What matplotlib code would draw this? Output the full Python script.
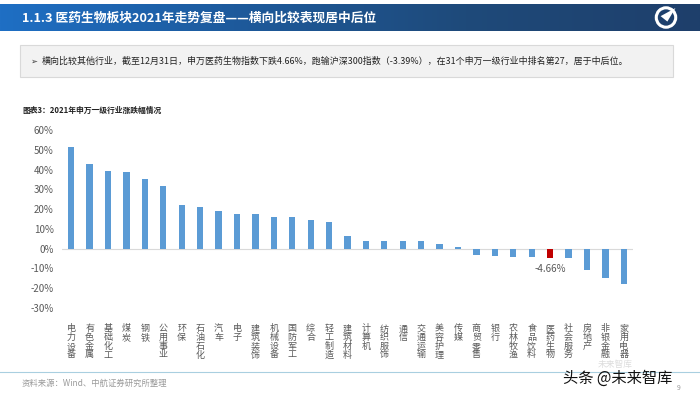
import numpy as np
import matplotlib.pyplot as plt
from matplotlib.patches import Rectangle, Circle, Polygon
from matplotlib.colors import LinearSegmentedColormap

plt.rcParams['font.family'] = ['Noto Sans CJK SC', 'DejaVu Sans']

# industries (Shenwan level 1) and 2021 returns, %
industries = ['电力设备', '有色金属', '基础化工', '煤炭', '钢铁', '公用事业', '环保', '石油石化',
              '汽车', '电子', '建筑装饰', '机械设备', '国防军工', '综合', '轻工制造', '建筑材料',
              '计算机', '纺织服饰', '通信', '交通运输', '美容护理', '传媒', '商贸零售', '银行',
              '农林牧渔', '食品饮料', '医药生物', '社会服务', '房地产', '非银金融', '家用电器']
returns = [51.4, 42.6, 39.2, 39.0, 35.0, 31.9, 22.0, 21.1,
           19.1, 17.6, 17.4, 16.2, 16.2, 14.4, 13.3, 6.6,
           4.1, 4.1, 3.9, 3.9, 2.2, 1.0, -3.2, -3.7,
           -4.2, -4.2, -4.66, -4.9, -11.0, -14.9, -17.9]
highlight = '医药生物'
yticks = [-30, -20, -10, 0, 10, 20, 30, 40, 50, 60]

W, H = 700, 394
fig = plt.figure(figsize=(7, 3.94), dpi=100)

def fx(px):
    return px / W

def fy(py):
    return 1 - py / H

# header band with gradient
hdr = fig.add_axes([0, fy(31), 1, (31 - 4) / H])
grad = np.linspace(0, 1, 256).reshape(1, -1)
cm = LinearSegmentedColormap.from_list('hdr', ['#1f6fc4', '#1d5a9c', '#1f4a7a', '#1e3f6b'])
hdr.imshow(grad, aspect='auto', cmap=cm, extent=[0, 1, 0, 1])
hdr.set_axis_off()
fig.text(fx(22), fy(18), '1.1.3 医药生物板块2021年走势复盘——横向比较表现居中后位',
         color='white', fontsize=9.2, fontweight='bold', va='center', ha='left')

# logo
ov = fig.add_axes([fx(652), fy(31), fx(28), 27 / H])
ov.set_xlim(0, 1)
ov.set_ylim(0, 1)
ov.set_aspect('equal')
ov.set_axis_off()
ov.add_patch(Circle((0.5, 0.5), 0.36, fill=False, ec='white', lw=2.2))
ov.add_patch(Polygon([[0.3, 0.55], [0.85, 0.85], [0.55, 0.35]], closed=True, fc='white', ec='none'))

# bullet text box
fig.patches.append(Rectangle((fx(20), fy(77)), fx(653), (77 - 45) / H, transform=fig.transFigure,
                             fc='#f2f2f2', ec='#d9d9d9', lw=0.8))
fig.text(fx(30), fy(61), '➢', fontsize=6, va='center', color='#333333')
fig.text(fx(42), fy(61), '横向比较其他行业，截至12月31日，申万医药生物指数下跌4.66%，跑输沪深300指数（-3.39%），在31个申万一级行业中排名第27，居于中后位。',
         fontsize=6.45, va='center', color='#222222')

# chart title
fig.text(fx(22), fy(110), '图表3：2021年申万一级行业涨跌幅情况', fontsize=5.6, fontweight='bold',
         va='center', color='#222222')

# bar chart
ax = fig.add_axes([fx(62), fy(308), fx(633 - 62), (308 - 130) / H])
x = np.arange(len(industries))
colors = ['#c00000' if n == highlight else '#5b9bd5' for n in industries]
ax.bar(x, returns, width=0.34, color=colors)
ax.set_xlim(-0.5, len(industries) - 0.5)
ax.set_ylim(-30, 60)
ax.set_yticks(yticks)
ax.set_yticklabels([f'{v}%' for v in yticks], fontsize=7, color='#595959')
ax.tick_params(axis='y', length=0, pad=6)
ax.set_xticks([])
for s in ax.spines.values():
    s.set_visible(False)
ax.axhline(0, color='#d9d9d9', lw=0.8, zorder=0)

for i, n in enumerate(industries):
    ax.text(i, -38.3, '\n'.join(n), ha='center', va='top', fontsize=6.5, color='#595959',
            linespacing=0.95)

hi = industries.index(highlight)
ax.text(hi, returns[hi] - 5.5, f'{returns[hi]:.2f}%', ha='center', va='center',
        fontsize=7, color='#595959')

# footer
fig.add_artist(plt.Line2D([0, 1], [fy(372), fy(372)], transform=fig.transFigure,
                          color='#a9cfe0', lw=0.8))
fig.text(fx(22), fy(383), '资料来源：Wind、中航证券研究所整理', fontsize=6, va='center', color='#9a9a9a')
fig.text(fx(598), fy(364.8), '未来智库', fontsize=6.3, va='center', color='#dcdcdc')
fig.text(fx(563), fy(378.5), '头条 @未来智库', fontsize=11, va='center', color='#111111')
fig.text(fx(677), fy(388), '9', fontsize=5, va='center', color='#999999')

fig.savefig('out.png', dpi=100)
